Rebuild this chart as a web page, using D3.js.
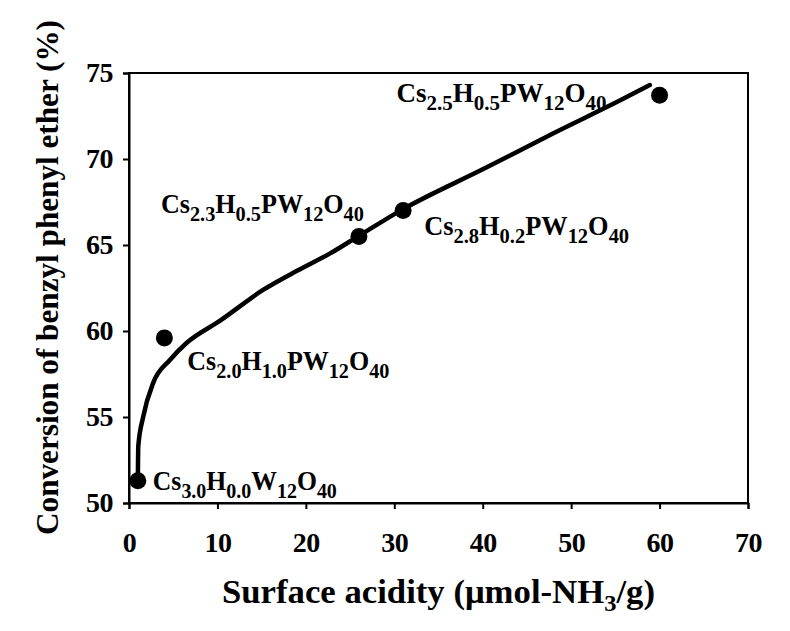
<!DOCTYPE html>
<html><head><meta charset="utf-8">
<script src="https://cdn.jsdelivr.net/npm/d3@7"></script>
<style>body{margin:0;background:#fff}</style>
</head><body><svg id="c" width="790" height="631"></svg>
<script>
// Data
const acidity = [1, 4, 26, 31, 60];
const conversion = [51.3, 59.6, 65.5, 67.0, 73.7];
const catalysts = [
  [["Cs",0],["3.0",1],["H",0],["0.0",1],["W",0],["12",1],["O",0],["40",1]],
  [["Cs",0],["2.0",1],["H",0],["1.0",1],["PW",0],["12",1],["O",0],["40",1]],
  [["Cs",0],["2.3",1],["H",0],["0.5",1],["PW",0],["12",1],["O",0],["40",1]],
  [["Cs",0],["2.8",1],["H",0],["0.2",1],["PW",0],["12",1],["O",0],["40",1]],
  [["Cs",0],["2.5",1],["H",0],["0.5",1],["PW",0],["12",1],["O",0],["40",1]]
];
// trend curve
const curveX = [1.0, 1.05, 1.6, 2.75, 4.6, 6.5, 10.3, 15.2, 19.0, 22.7, 25.9, 30.7, 40.4, 48.0, 55.5, 58.9];
const curveY = [51.3, 53.3, 55.0, 57.0, 58.3, 59.3, 60.6, 62.4, 63.5, 64.5, 65.5, 67.0, 69.5, 71.5, 73.4, 74.3];
const xTicks = [0,10,20,30,40,50,60,70];
const yTicks = [50,55,60,65,70,75];

const svg = d3.select("#c");
const L=129, R=748, T=73, B=503;
const x = d3.scaleLinear().domain([0,70]).range([L,R]);
const y = d3.scaleLinear().domain([50,75]).range([B,T]);
const font = "'Liberation Serif','Times New Roman',serif";

// frame
svg.append("rect").attr("x",L).attr("y",T).attr("width",R-L).attr("height",B-T)
  .attr("fill","none").attr("stroke","#000").attr("stroke-width",2);

const xa = svg.append("g").attr("transform",`translate(0,${B})`)
  .call(d3.axisBottom(x).tickValues(xTicks).tickSize(6).tickPadding(23));
const ya = svg.append("g").attr("transform",`translate(${L},0)`)
  .call(d3.axisLeft(y).tickValues(yTicks).tickSize(6).tickPadding(10));
[xa,ya].forEach(a=>{
  a.select(".domain").attr("stroke-width",2);
  a.selectAll(".tick line").attr("stroke-width",2);
  a.selectAll("text").attr("font-family",font).attr("font-weight","bold")
   .attr("font-size",28).attr("letter-spacing",-0.5).attr("fill","#000");
});

// curve
const pts = curveX.map((d,i)=>[d,curveY[i]]);
svg.append("path").datum(pts)
  .attr("d", d3.line().x(d=>x(d[0])).y(d=>y(d[1])).curve(d3.curveMonotoneX))
  .attr("fill","none").attr("stroke","#000").attr("stroke-width",4.5).attr("stroke-linecap","round");

// points
svg.selectAll("circle.pt").data(acidity).enter().append("circle")
  .attr("cx",d=>x(d)).attr("cy",(d,i)=>y(conversion[i])).attr("r",8.5).attr("fill","#000");

// labels (pixel offsets from point)
const offs = [[15,9],[23,32],[-198,-23],[21,24],[-263,7]];
const widths = [184,202,203,205,210];
catalysts.forEach((parts,i)=>{
  const t = svg.append("text")
    .attr("x", x(acidity[i])+offs[i][0]).attr("y", y(conversion[i])+offs[i][1])
    .attr("font-family",font).attr("font-weight","bold").attr("font-size",27)
    .attr("textLength",widths[i]).attr("lengthAdjust","spacingAndGlyphs")
    .attr("fill","#000");
  let sub=false;
  parts.forEach(([s,isSub])=>{
    const ts = t.append("tspan").text(s);
    if (isSub && !sub){ ts.attr("dy",8).attr("font-size",21); sub=true; }
    else if (isSub){ ts.attr("font-size",21); }
    else if (!isSub && sub){ ts.attr("dy",-8); sub=false; }
  });
});

// axis titles
svg.append("text").attr("x",222).attr("y",603)
  .attr("font-family",font).attr("font-weight","bold").attr("font-size",34)
  .attr("textLength",433).attr("lengthAdjust","spacingAndGlyphs")
  .html('Surface acidity (μmol-NH<tspan dy="8" font-size="24">3</tspan><tspan dy="-8">/g)</tspan>');
svg.append("text").attr("transform","translate(58,535) rotate(-90)")
  .attr("font-family",font).attr("font-weight","bold").attr("font-size",32)
  .attr("textLength",515).attr("lengthAdjust","spacingAndGlyphs")
  .text("Conversion of benzyl phenyl ether (%)");
</script></body></html>
